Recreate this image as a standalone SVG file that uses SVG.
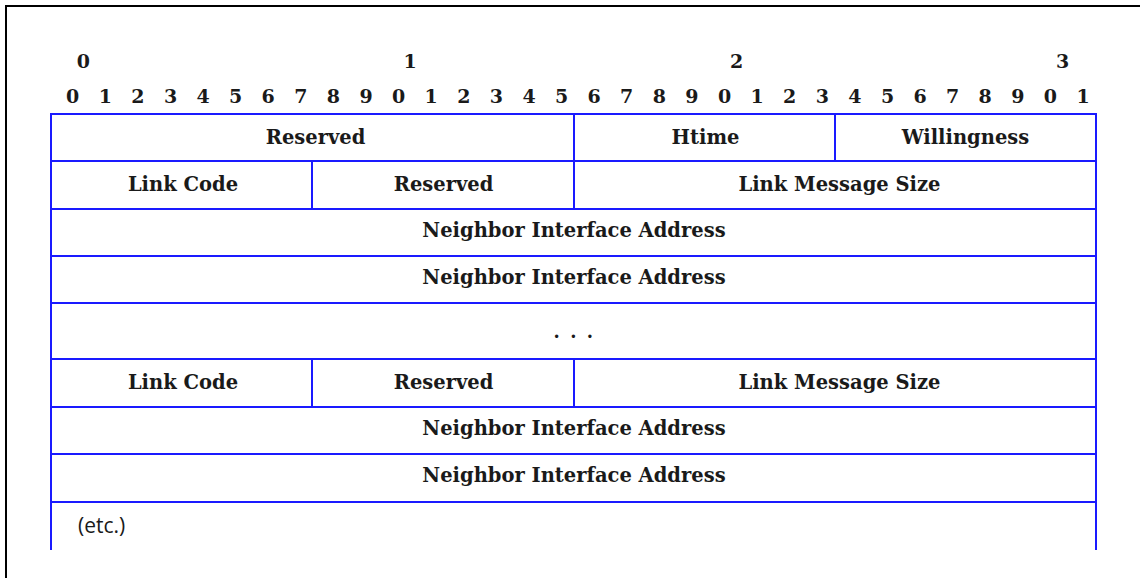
<svg xmlns="http://www.w3.org/2000/svg" width="1140" height="578" viewBox="0 0 1140 578">
<style>
.frame{fill:none;stroke:#000;stroke-width:2}
.cell{fill:none;stroke:#1a1aff;stroke-width:2}
.lbl{font-family:"DejaVu Serif","Liberation Serif",serif;font-weight:bold;font-size:19.5px;fill:#1a1a1a;text-anchor:middle}
.dots{font-family:"DejaVu Serif","Liberation Serif",serif;font-weight:bold;font-size:18px;fill:#1a1a1a;text-anchor:middle}
.num{font-family:"DejaVu Serif","Liberation Serif",serif;font-weight:bold;font-size:19px;fill:#1a1a1a;text-anchor:middle}
.etc{font-family:"Open Sans","Liberation Sans",sans-serif;font-size:21px;fill:#1a1a1a}
</style>
<rect width="1140" height="578" fill="#fff"/>
<path class="frame" d="M6,600 V6 H1160"/>
<g id="bit-ruler">
<text class="num" y="68" x="83.3 246.7 410 573.4 736.7 899.7 1062.7">0 1 2 3</text>
<text class="num" y="103" x="72.7 89 105.3 121.6 137.9 154.2 170.5 186.8 203.1 219.4 235.7 252 268.2 284.5 300.8 317.1 333.4 349.7 366 382.3 398.6 414.9 431.2 447.5 463.8 480.1 496.4 512.7 529 545.3 561.6 577.9 594.1 610.4 626.7 643 659.3 675.6 691.9 708.2 724.5 740.8 757.1 773.4 789.7 806 822.3 838.6 854.9 871.2 887.5 903.8 920 936.3 952.6 968.9 985.2 1001.5 1017.8 1034.1 1050.4 1066.7 1083">0 1 2 3 4 5 6 7 8 9 0 1 2 3 4 5 6 7 8 9 0 1 2 3 4 5 6 7 8 9 0 1</text>
</g>
<g id="connectors"></g>
<g id="reserved-1"><rect class="cell" x="51" y="114" width="523" height="47"/><text class="lbl" x="315.5" y="144">Reserved</text></g>
<g id="htime"><rect class="cell" x="574" y="114" width="261" height="47"/><text class="lbl" x="705.5" y="144">Htime</text></g>
<g id="willingness"><rect class="cell" x="835" y="114" width="261" height="47"/><text class="lbl" x="965.5" y="144">Willingness</text></g>
<g id="link-code-1"><rect class="cell" x="51" y="161" width="261" height="48"/><text class="lbl" x="183" y="191">Link Code</text></g>
<g id="reserved-2"><rect class="cell" x="312" y="161" width="262" height="48"/><text class="lbl" x="443.5" y="191">Reserved</text></g>
<g id="link-msg-size-1"><rect class="cell" x="574" y="161" width="522" height="48"/><text class="lbl" x="839.5" y="191">Link Message Size</text></g>
<g id="neighbor-addr-1"><rect class="cell" x="51" y="209" width="1045" height="47"/><text class="lbl" x="574" y="237">Neighbor Interface Address</text></g>
<g id="neighbor-addr-2"><rect class="cell" x="51" y="256" width="1045" height="47"/><text class="lbl" x="574" y="284">Neighbor Interface Address</text></g>
<g id="ellipsis"><rect class="cell" x="51" y="303" width="1045" height="56"/><text class="dots" x="556.7 565 573.3 581.7 590" y="338">. . .</text></g>
<g id="link-code-2"><rect class="cell" x="51" y="359" width="261" height="48"/><text class="lbl" x="183" y="389">Link Code</text></g>
<g id="reserved-3"><rect class="cell" x="312" y="359" width="262" height="48"/><text class="lbl" x="443.5" y="389">Reserved</text></g>
<g id="link-msg-size-2"><rect class="cell" x="574" y="359" width="522" height="48"/><text class="lbl" x="839.5" y="389">Link Message Size</text></g>
<g id="neighbor-addr-3"><rect class="cell" x="51" y="407" width="1045" height="47"/><text class="lbl" x="574" y="435">Neighbor Interface Address</text></g>
<g id="neighbor-addr-4"><rect class="cell" x="51" y="454" width="1045" height="48"/><text class="lbl" x="574" y="482">Neighbor Interface Address</text></g>
<g id="etc"><path class="cell" d="M51,550 V502 H1096 V550"/><text class="etc" x="78" y="533">(etc.)</text></g>
</svg>
